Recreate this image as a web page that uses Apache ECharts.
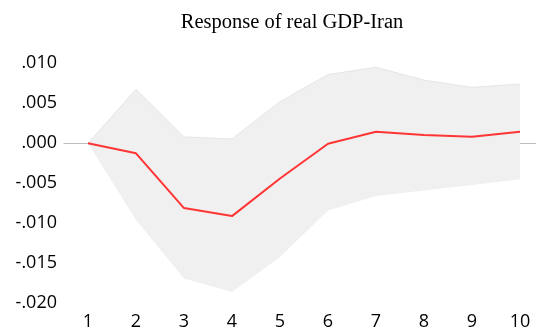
<!DOCTYPE html>
<html>
<head>
<meta charset="utf-8">
<script src="https://cdn.jsdelivr.net/npm/echarts@6/dist/echarts.min.js"></script>
<style>
  html, body { margin: 0; padding: 0; background: #fff; }
  #chart { width: 536px; height: 334px; }
</style>
</head>
<body>
<div id="chart"></div>
<script>
// Impulse response horizon (periods)
var periods = ['1', '2', '3', '4', '5', '6', '7', '8', '9', '10'];
// Point response of real GDP
var response = [0.0000, -0.00125, -0.0081, -0.0091, -0.0044, -0.00005, 0.00145, 0.00104, 0.00083, 0.00145];
// Confidence band bounds
var upperBand = [0.0000, 0.00675, 0.0008, 0.00054, 0.0052, 0.0086, 0.0095, 0.0079, 0.0070, 0.0074];
var lowerBand = [0.0000, -0.0096, -0.0169, -0.0186, -0.0142, -0.0084, -0.0066, -0.0059, -0.0052, -0.0045];

var bandWidth = upperBand.map(function (u, i) { return u - lowerBand[i]; });

function fmtTick(v) {
  var s = Math.abs(v).toFixed(3).replace(/^0/, '');
  return (v < -1e-9 ? '-' : '') + s;
}

var chart = echarts.init(document.getElementById('chart'), null, { renderer: 'canvas' });
chart.setOption({
  animation: false,
  backgroundColor: '#ffffff',
  title: {
    text: 'Response of real GDP-Iran',
    left: 287,
    textAlign: 'center',
    top: 7,
    textStyle: { fontFamily: 'Liberation Serif', fontSize: 20.5, fontWeight: 'normal', color: '#000' }
  },
  grid: { left: 64, top: 63.3, width: 480, height: 240, containLabel: false, outerBoundsMode: 'none' },
  xAxis: {
    type: 'category',
    data: periods,
    boundaryGap: true,
    axisLine: { onZero: true, lineStyle: { color: '#bdbdbd', width: 1 } },
    axisTick: { show: false },
    axisLabel: {
      show: true, margin: 10, color: '#000',
      fontFamily: 'Open Sans', fontSize: 18
    },
    splitLine: { show: false }
  },
  yAxis: {
    type: 'value',
    min: -0.020,
    max: 0.010,
    interval: 0.005,
    axisLine: { show: false },
    axisTick: { show: false },
    splitLine: { show: false },
    axisLabel: {
      margin: 7, color: '#000',
      fontFamily: 'Open Sans', fontSize: 18,
      formatter: fmtTick
    }
  },
  series: [
    {
      name: 'lower',
      type: 'line',
      data: lowerBand,
      stack: 'band',
      stackStrategy: 'all',
      symbol: 'none',
      lineStyle: { width: 0, opacity: 0 },
      silent: true
    },
    {
      name: 'band',
      type: 'line',
      data: bandWidth,
      stack: 'band',
      stackStrategy: 'all',
      symbol: 'none',
      lineStyle: { width: 1, color: '#e6e6e6' },
      areaStyle: { color: '#f0f0f0', opacity: 1 },
      silent: true
    },
    {
      name: 'response',
      type: 'line',
      data: response,
      symbol: 'none',
      lineStyle: { width: 2, color: '#ff3535' },
      z: 5
    }
  ]
});
</script>
</body>
</html>
